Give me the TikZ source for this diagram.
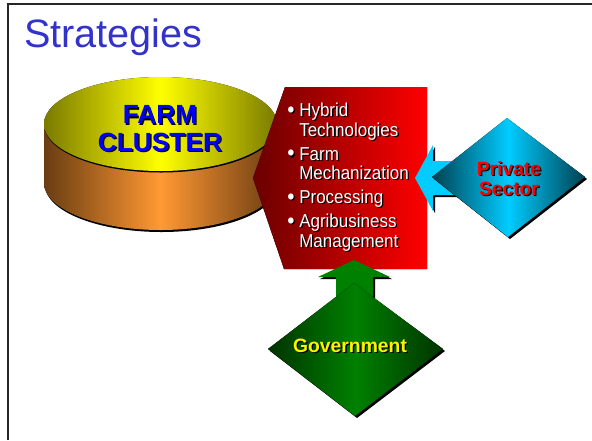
\documentclass[tikz,border=0pt]{standalone}
\usepackage{fontspec}
\setmainfont{Liberation Sans}
\newfontfamily\narrowsans[FakeStretch=0.91]{Liberation Sans}

\definecolor{titleblue}{HTML}{3333CC}
\definecolor{canolive}{HTML}{7A7A00}
\definecolor{canyellow}{HTML}{FFFF00}
\definecolor{canbrown}{HTML}{6A3C12}
\definecolor{canorange}{HTML}{FF9933}
\definecolor{blockdark}{HTML}{6A0000}
\definecolor{blockred}{HTML}{FF0000}
\definecolor{tealdark}{HTML}{004050}
\definecolor{tealcyan}{HTML}{00CCFF}
\definecolor{govdark}{HTML}{003300}
\definecolor{govgreen}{HTML}{008000}

% text with a black drop shadow
\newcommand{\shd}[2][white]{\makebox[0pt][l]{\hspace{1pt}\raisebox{-1pt}{\color{black}#2}}\textcolor{#1}{#2}}
% bullet and hanging indent of the list
\newcommand{\blt}{\makebox[9pt][l]{\shd{{\fontsize{17}{15}\selectfont\raisebox{-0.6pt}{•}}}}}
\newcommand{\hng}{\hspace*{9pt}}

\begin{document}
\begin{tikzpicture}[x=0.75pt,y=0.75pt,yscale=-1,xscale=1]
\useasboundingbox (0,0) rectangle (592,440);

%Shape: Frame
\draw [line width=1.1pt, black!85]  (8,440) -- (8,4) -- (592,4) ;

%Shape: Can side
\fill [black]  (45,126) -- (45,185) arc [start angle=180, end angle=0, x radius=116.5, y radius=47] -- (278,126) -- cycle ;
\fill [left color=canbrown, right color=canbrown, middle color=canorange]  (44,124) -- (44,183) arc [start angle=180, end angle=0, x radius=116.5, y radius=47] -- (277,124) -- cycle ;
%Shape: Can top
\fill [black]  (161,125.5) ellipse [x radius=116.5, y radius=47] ;
\fill [left color=canolive, right color=canolive, middle color=canyellow]  (160.5,124) ellipse [x radius=116.5, y radius=47] ;

%Shape: Block
\fill [left color=blockdark, right color=blockred]  (285,87) -- (427,87) -- (427,269) -- (284,269) -- (253,178) -- cycle ;

%Shape: Left arrow
\fill [black]  (417,180) -- (435,147) -- (435,163) -- (472,163) -- (472,197) -- (435,197) -- (435,213) -- cycle ;
\fill [tealcyan]  (415,178) -- (433,145) -- (433,161) -- (470,161) -- (470,195) -- (433,195) -- (433,211) -- cycle ;
%Shape: Up arrow
\fill [black]  (356,262) -- (392,279) -- (375,279) -- (375,312) -- (338,312) -- (338,279) -- (320,279) -- cycle ;
\fill [govgreen]  (354,260) -- (390,277) -- (373,277) -- (373,310) -- (336,310) -- (336,277) -- (318,277) -- cycle ;

%Shape: Diamond
\fill [black]  (509,120) -- (587,179) -- (510,239) -- (434,179) -- cycle ;
\fill [left color=tealdark, right color=tealdark, middle color=tealcyan]  (507,118) -- (585,177) -- (508,237) -- (432,177) -- cycle ;
%Shape: Diamond
\fill [black]  (356,285) -- (445,351) -- (357,418) -- (270,351) -- cycle ;
\fill [left color=govdark, right color=govdark, middle color=govgreen]  (354,283) -- (443,349) -- (355,416) -- (268,349) -- cycle ;

% Text Node
\draw (23,47) node [anchor=base west][inner sep=0.75pt] (title) {\fontsize{29.7}{34}\selectfont\color{titleblue} Strategies};
% Text Node
\draw (160,151) node [anchor=base][inner sep=0.75pt] [align=center, font={\fontsize{19.7}{20.5}\selectfont\bfseries}] (cluster) {\shd[blue]{FARM}\\\shd[blue]{CLUSTER}};
% Text Node
\draw (287,247) node [anchor=base west][inner sep=0pt] [align=left, font={\narrowsans\fontsize{14}{14.6}\selectfont}] (items) {\blt\shd{Hybrid}\\
\hng\shd{Technologies}\\[3.4pt]
\blt\shd{Farm}\\
\hng\shd{Mechanization}\\[3.4pt]
\blt\shd{Processing}\\[3.4pt]
\blt\shd{Agribusiness}\\
\hng\shd{Management}};
% Text Node
\draw (509,195) node [anchor=base][inner sep=0.75pt] [align=center, font={\fontsize{14.4}{15}\selectfont\bfseries}] (private) {\shd[red]{Private}\\\shd[red]{Sector}};
% Text Node
\draw (350,352) node [anchor=base][inner sep=0.75pt] [font={\fontsize{14.5}{15}\selectfont\bfseries}] (govt) {\shd[yellow]{Government}};

\end{tikzpicture}
\end{document}
